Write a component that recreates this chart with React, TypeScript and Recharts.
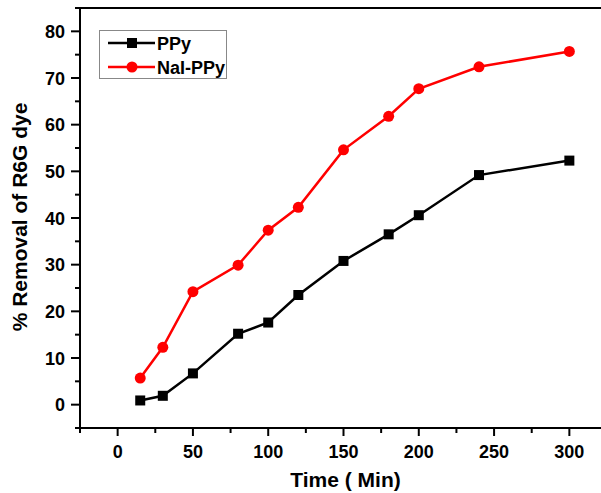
import React from "react";
import {
  LineChart,
  Line,
  XAxis,
  YAxis,
  ReferenceLine,
  Label,
} from "recharts";

const times = [15, 30, 50, 80, 100, 120, 150, 180, 200, 240, 300];
const ppy = [0.9, 1.9, 6.7, 15.2, 17.6, 23.5, 30.8, 36.5, 40.6, 49.2, 52.3];
const naiPpy = [5.7, 12.3, 24.2, 29.9, 37.4, 42.3, 54.6, 61.8, 67.7, 72.4, 75.7];
const seriesNames = ["PPy", "NaI-PPy"];

const xTicks = [-25, 0, 25, 50, 75, 100, 125, 150, 175, 200, 225, 250, 275, 300, 325];
const yTicks = [-5, 0, 5, 10, 15, 20, 25, 30, 35, 40, 45, 50, 55, 60, 65, 70, 75, 80, 85];

const data = times.map((t, i) => ({ t, ppy: ppy[i], nai: naiPpy[i] }));

const FONT = '"Liberation Sans", Arial, Helvetica, sans-serif';

const XTick = (props: any) => {
  const { x, y, payload } = props;
  const v = payload.value;
  const major = v % 50 === 0;
  return (
    <g>
      <line x1={x} x2={x} y1={y} y2={y + (major ? 8 : 5)} stroke="#000" strokeWidth={2} />
      {major && (
        <text x={x} y={y + 30} textAnchor="middle" fontFamily={FONT} fontWeight="bold" fontSize={18} fill="#000">
          {v}
        </text>
      )}
    </g>
  );
};

const YTick = (props: any) => {
  const { x, y, payload } = props;
  const v = payload.value;
  const major = v % 10 === 0;
  return (
    <g>
      <line x1={x} x2={x - (major ? 9 : 5)} y1={y} y2={y} stroke="#000" strokeWidth={2} />
      {major && (
        <text x={x - 15} y={y + 6.5} textAnchor="end" fontFamily={FONT} fontWeight="bold" fontSize={18} fill="#000">
          {v}
        </text>
      )}
    </g>
  );
};

const SquareDot = (props: any) => {
  const { cx, cy } = props;
  if (cx == null || cy == null) return null;
  return <rect x={cx - 5} y={cy - 5} width={10} height={10} fill="#000" />;
};

const CircleDot = (props: any) => {
  const { cx, cy } = props;
  if (cx == null || cy == null) return null;
  return <circle cx={cx} cy={cy} r={5.5} fill="#ff0000" />;
};

const LegendBox = () => (
  <svg
    width={130}
    height={51}
    style={{ position: "absolute", left: 98, top: 29 }}
  >
    <rect x={1.5} y={1.5} width={127} height={48} fill="#fff" stroke="#888" strokeWidth={1} />
    <line x1={10} x2={57} y1={14} y2={14} stroke="#000" strokeWidth={2.5} />
    <rect x={29} y={9} width={10} height={10} fill="#000" />
    <text x={59} y={20.5} fontFamily={FONT} fontWeight="bold" fontSize={18} fill="#000">
      {seriesNames[0]}
    </text>
    <line x1={10} x2={57} y1={38} y2={38} stroke="#ff0000" strokeWidth={2.5} />
    <circle cx={34} cy={38} r={5.5} fill="#ff0000" />
    <text x={59} y={44.5} fontFamily={FONT} fontWeight="bold" fontSize={18} fill="#000">
      {seriesNames[1]}
    </text>
  </svg>
);

export default function App() {
  return (
    <div style={{ position: "absolute", left: 0, top: 0, width: 601, height: 493, overflow: "hidden", background: "#fff" }}>
      <LineChart
        width={620}
        height={493}
        data={data}
        margin={{ top: 8, right: 13, bottom: 0, left: 0 }}
      >
        <XAxis
          dataKey="t"
          type="number"
          domain={[-25, 325]}
          ticks={xTicks}
          interval={0}
          allowDataOverflow
          height={65}
          tickSize={0}
          tickMargin={0}
          tickLine={false}
          axisLine={{ stroke: "#000", strokeWidth: 2 }}
          tick={<XTick />}
        >
          <Label
            content={(p: any) => {
              const vb = p.viewBox;
              return (
                <text
                  x={vb.x + vb.width / 2 + 2}
                  y={vb.y + 59}
                  textAnchor="middle"
                  fontFamily={FONT}
                  fontWeight="bold"
                  fontSize={21}
                  fill="#000"
                >
                  Time ( Min)
                </text>
              );
            }}
          />
        </XAxis>
        <YAxis
          type="number"
          domain={[-5, 85]}
          ticks={yTicks}
          interval={0}
          allowDataOverflow
          width={80}
          tickSize={0}
          tickMargin={0}
          tickLine={false}
          axisLine={{ stroke: "#000", strokeWidth: 2 }}
          tick={<YTick />}
        >
          <Label
            content={(p: any) => {
              const vb = p.viewBox;
              const cx = vb.x + 27;
              const cy = vb.y + vb.height / 2 - 1;
              return (
                <text
                  x={cx}
                  y={cy}
                  transform={`rotate(-90 ${cx} ${cy})`}
                  textAnchor="middle"
                  fontFamily={FONT}
                  fontWeight="bold"
                  fontSize={21}
                  fill="#000"
                >
                  % Removal of R6G dye
                </text>
              );
            }}
          />
        </YAxis>
        <ReferenceLine y={85} stroke="#000" strokeWidth={2} />
        <Line
          dataKey="ppy"
          name={seriesNames[0]}
          stroke="#000"
          strokeWidth={2.5}
          dot={<SquareDot />}
          activeDot={false}
          isAnimationActive={false}
        />
        <Line
          dataKey="nai"
          name={seriesNames[1]}
          stroke="#ff0000"
          strokeWidth={2.5}
          dot={<CircleDot />}
          activeDot={false}
          isAnimationActive={false}
        />
      </LineChart>
      <LegendBox />
    </div>
  );
}
